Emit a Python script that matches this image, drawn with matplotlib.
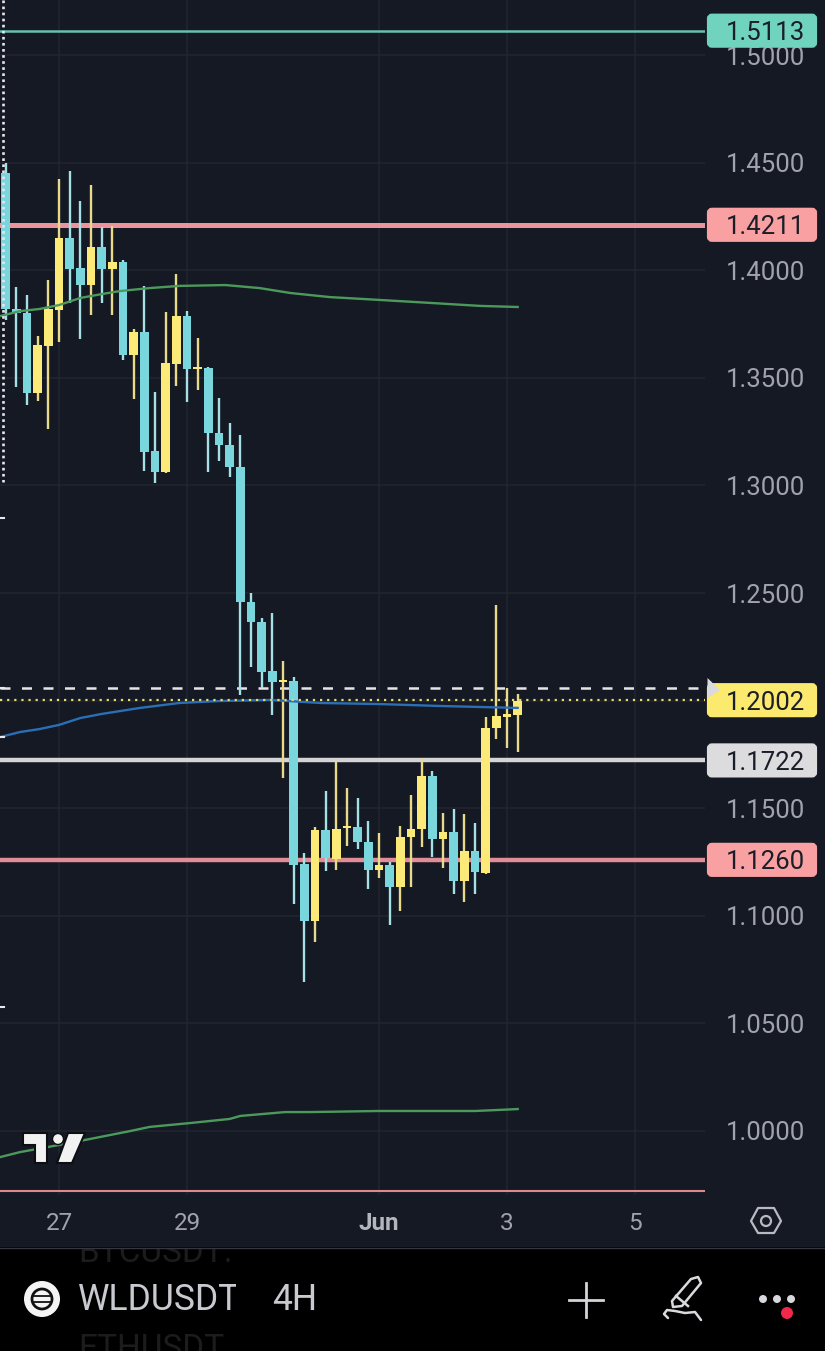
import matplotlib
matplotlib.use("Agg")
import matplotlib.pyplot as plt
from matplotlib.patches import FancyBboxPatch, Rectangle, Circle, Polygon

plt.rcParams['font.family'] = ['Roboto', 'DejaVu Sans']

# 4H candles, index 0 is the first candle of the 27th
candle_idx = list(range(-5, 44))
opens = [1.4452, 1.3820, 1.3801, 1.3429, 1.3648, 1.3815, 1.4150, 1.4010, 1.3931, 1.4108,
         1.4006, 1.4038, 1.3606, 1.3713, 1.3160, 1.3062, 1.3564, 1.3787, 1.3541, 1.3545,
         1.3243, 1.3188, 1.3085, 1.2458, 1.2365, 1.2138, 1.2086, 1.2091, 1.1241, 1.0976,
         1.1399, 1.1264, 1.1408, 1.1413, 1.1343, 1.1213, 1.1236, 1.1134, 1.1366, 1.1403,
         1.1650, 1.1357, 1.1389, 1.1162, 1.1301, 1.1199, 1.1873, 1.1924, 1.1933]
closes = [1.3820, 1.3801, 1.3429, 1.3652, 1.3820, 1.4150, 1.4006, 1.3931, 1.4108, 1.4006,
          1.4038, 1.3606, 1.3713, 1.3155, 1.3062, 1.3569, 1.3787, 1.3541, 1.3550, 1.3243,
          1.3188, 1.3085, 1.2458, 1.2365, 1.2133, 1.2086, 1.2096, 1.1236, 1.0976, 1.1399,
          1.1269, 1.1403, 1.1417, 1.1343, 1.1213, 1.1236, 1.1134, 1.1366, 1.1403, 1.1650,
          1.1357, 1.1389, 1.1162, 1.1301, 1.1204, 1.1873, 1.1928, 1.1938, 1.1998]
highs = [1.4498, 1.3922, 1.3885, 1.3694, 1.3954, 1.4424, 1.4461, 1.4322, 1.4396, 1.4201,
         1.4205, 1.4047, 1.3727, 1.3927, 1.3434, 1.3806, 1.3982, 1.3810, 1.3685, 1.3550,
         1.3406, 1.3290, 1.3234, 1.2500, 1.2384, 1.2407, 1.2184, 1.2110, 1.1292, 1.1413,
         1.1580, 1.1715, 1.1594, 1.1547, 1.1441, 1.1385, 1.1250, 1.1417, 1.1561, 1.1733,
         1.1673, 1.1478, 1.1496, 1.1473, 1.1431, 1.1924, 1.2444, 1.2059, 1.2031]
lows = [1.3769, 1.3457, 1.3374, 1.3392, 1.3262, 1.3666, 1.3848, 1.3680, 1.3792, 1.3848,
        1.3792, 1.3583, 1.3401, 1.3067, 1.3011, 1.3058, 1.3462, 1.3388, 1.3443, 1.3062,
        1.3113, 1.3039, 1.2026, 1.2156, 1.2059, 1.1933, 1.1640, 1.1055, 1.0692, 1.0878,
        1.1208, 1.1213, 1.1324, 1.1310, 1.1125, 1.1176, 1.0957, 1.1022, 1.1134, 1.1320,
        1.1273, 1.1222, 1.1101, 1.1064, 1.1101, 1.1194, 1.1822, 1.1780, 1.1761]

# moving averages, sampled along the line
ma_upper_idx = [-5.5, -3.65, -1.8, 0, 2, 4, 5.7, 8.5, 11.3, 15.6, 18.8, 21.7, 25.4, 30, 34.8, 39.5, 43]
ma_upper = [1.3787, 1.3810, 1.3820, 1.3838, 1.3871, 1.3889, 1.3903, 1.3917, 1.3927, 1.3931,
            1.3917, 1.3894, 1.3875, 1.3862, 1.3848, 1.3834, 1.3829]
ma_lower_idx = [-5.5, -3.65, 0, 2.4, 6.7, 8.5, 12.3, 16, 17, 21.2, 23.5, 30, 39, 41.3, 43]
ma_lower = [0.9879, 0.9902, 0.9935, 0.9958, 1.0000, 1.0019, 1.0037, 1.0056, 1.0070, 1.0088,
            1.0088, 1.0093, 1.0093, 1.0098, 1.0102]
ma_blue_idx = [-5.5, -3.65, -1.8, 0, 2, 4, 7.6, 11.3, 15, 19.8, 24.5, 30, 35.7, 43]
ma_blue = [1.1831, 1.1854, 1.1868, 1.1887, 1.1919, 1.1938, 1.1966, 1.1989, 1.1998, 1.2003,
           1.1989, 1.1984, 1.1975, 1.1966]

# horizontal levels
level_top = 1.5113
level_res = 1.4211
level_last = 1.2002
level_mid = 1.1722
level_sup = 1.1260
level_bottom = 0.9721
level_dash = 1.2059

price_ticks = [1.0, 1.05, 1.10, 1.15, 1.20, 1.25, 1.30, 1.35, 1.40, 1.45, 1.50]
price_labels = ['1.0000', '1.0500', '1.1000', '1.1500', '', '1.2500', '1.3000', '1.3500', '1.4000', '1.4500', '1.5000']
date_ticks = [27, 29, 32, 34, 36]
date_labels = ['27', '29', 'Jun', '3', '5']

BG = '#151924'
BLUE = '#78d6dc'
BLUE_WICK = '#a5e0e6'
YELLOW = '#fbe978'
YELLOW_WICK = '#e9d98a'
TEXT = '#a0a3ab'

W, H = 825, 1351
fig = plt.figure(figsize=(W / 100, H / 100), dpi=100, facecolor=BG)
ax = fig.add_axes([0, 1 - 1195 / H, 705 / W, 1195 / H], facecolor=BG)
ax.set_xlim(26.078, 37.094)
ax.set_ylim(0.97026, 1.52556)

days = [27 + i / 6 for i in candle_idx]
for t, o, h, l, c in zip(days, opens, highs, lows, closes):
    up = c >= o
    ax.vlines(t, l, h, color=YELLOW_WICK if up else BLUE_WICK, lw=1.7, zorder=3)
    ax.bar(t, abs(c - o), bottom=min(o, c), width=0.135, color=YELLOW if up else BLUE, zorder=3.5)

ax.plot([27 + i / 6 for i in ma_upper_idx], ma_upper, color='#4c9a5b', lw=1.7, zorder=4)
ax.plot([27 + i / 6 for i in ma_lower_idx], ma_lower, color='#4c9a5b', lw=1.7, zorder=4)
ax.plot([27 + i / 6 for i in ma_blue_idx], ma_blue, color='#2a6fb5', lw=1.7, zorder=4)

ax.axhline(level_top, color='#68c0ae', lw=1.8, zorder=2)
ax.axhline(level_res, color='#ea959c', lw=3.6, zorder=2)
ax.axhline(level_mid, color='#d4d4d6', lw=3.2, zorder=2)
ax.axhline(level_sup, color='#e08d98', lw=3.2, zorder=2)
ax.axhline(level_bottom, color='#dc8a90', lw=1.5, zorder=2)
ax.axhline(level_dash, color='#e4e4e8', lw=1.8, ls=(0, (4, 4.6)), zorder=2.5)
ax.axhline(level_last, color='#e8d96e', lw=1.6, ls=(0, (1, 2.2)), zorder=4.5)

ax.yaxis.tick_right()
ax.set_yticks(price_ticks)
ax.set_yticklabels(price_labels, fontsize=18.5, color=TEXT)
ax.set_xticks(date_ticks)
ax.set_xticklabels(date_labels, fontsize=17.5, color=TEXT)
ax.get_xticklabels()[2].set_fontweight('bold')
ax.get_xticklabels()[2].set_color('#b4b6bd')
ax.tick_params(axis='y', length=0, pad=15)
ax.tick_params(axis='x', length=0, pad=12)
ax.grid(True, color='#22262f', lw=1.1, zorder=0)
ax.set_axisbelow(True)
for s in ax.spines.values():
    s.set_visible(False)

# overlay in pixel coordinates for the price tags and the app chrome
ov = fig.add_axes([0, 0, 1, 1], facecolor='none', zorder=5)
ov.set_xlim(0, W)
ov.set_ylim(H, 0)
ov.axis('off')


def price_y(p):
    return H - ax.transData.transform((27, p))[1]


def tag(p, color):
    y = price_y(p)
    ov.add_patch(FancyBboxPatch((709, y - 15), 106, 30, boxstyle='round,pad=0,rounding_size=3',
                                mutation_aspect=1, fc=color, ec=color, lw=3))
    ov.text(765.5, y, f'{p:.4f}', ha='center', va='center_baseline', fontsize=18.5, color='#1a1e28')


tag(level_top, '#6fd3bd')
tag(level_res, '#f9a0a2')
tag(level_last, '#fbea6e')
tag(level_mid, '#dcdcde')
tag(level_sup, '#f9a0a2')
ov.add_patch(Polygon([(707.5, 678), (720, 690), (707.5, 698)], fc='#d9d9de', ec='none'))

# crosshair remains on the left edge
ov.plot([2.5, 2.5], [0, 482], color='#e8e8ec', lw=1.9, ls=(0, (1, 1.3)))
for y in [518, 688, 737, 1007]:
    ov.plot([0, 4], [y, y], color='#e8e8ec', lw=1.5)

# TradingView logo
ov.add_patch(Polygon([(23, 1133), (47, 1133), (47, 1163), (35, 1163), (35, 1145), (23, 1145)],
                     fc='#f2f2f2', ec='#0c0e12', lw=1.5, zorder=6))
ov.add_patch(Circle((58, 1139), 5.5, fc='#f2f2f2', ec='#0c0e12', lw=1, zorder=6))
ov.add_patch(Polygon([(68, 1133), (85, 1133), (72, 1163), (57, 1163)], fc='#f2f2f2', ec='#0c0e12', lw=1.5, zorder=6))

# settings hexagon
ov.add_patch(Polygon([(751, 1221), (758, 1208), (774, 1208), (781, 1221), (774, 1233), (758, 1233)],
                     fc='none', ec='#b8bac0', lw=1.6, joinstyle='round'))
ov.add_patch(Circle((766, 1221), 5, fc='none', ec='#b8bac0', lw=1.6))

# bottom bar
ov.add_patch(Rectangle((0, 1247), W, 104, fc='black', ec='none', zorder=0.5))
ghost = ov.text(78, 1253, 'BTCUSDT.', fontsize=24, color='#1c1c1d', ha='left', va='center', zorder=1)
ghost.set_clip_path(Rectangle((0, 1248), W, 60, transform=ov.transData))
ghost.set_clip_on(True)
ov.plot([0, W], [1247.5, 1247.5], color='#34373f', lw=1, zorder=2)
ov.text(78, 1349, 'ETHUSDT', fontsize=24, color='#1c1c1d', ha='left', va='center', zorder=1)

ov.add_patch(Circle((42, 1299), 18, fc='#f4f4f4', ec='none', zorder=3))
ov.add_patch(Circle((42, 1299), 10, fc='none', ec='#111111', lw=2, zorder=4))
ov.plot([34, 50], [1296, 1296], color='#111111', lw=1.3, zorder=4)
ov.plot([34, 50], [1302, 1302], color='#111111', lw=1.3, zorder=4)

sym = ov.text(78, 1300, 'WLDUSDT', fontsize=25.6, color='#c8cad0', ha='left', va='center', zorder=3)
sym.set_clip_path(Rectangle((70, 1270), 166, 60, transform=ov.transData))
sym.set_clip_on(True)
ov.text(272, 1300, '4H', fontsize=25.6, color='#c8cad0', ha='left', va='center', zorder=3)

ov.plot([569, 603], [1300, 1300], color='#d2d4d8', lw=2, zorder=3)
ov.plot([586, 586], [1283, 1317], color='#d2d4d8', lw=2, zorder=3)

# pencil
ov.add_patch(Polygon([(673, 1307), (672, 1301), (691, 1279), (698, 1277), (701, 1283), (682, 1306)],
                     fc='none', ec='#d8dade', lw=1.8, joinstyle='round', zorder=3))
ov.plot([676, 688], [1296, 1306], color='#d8dade', lw=1.8, zorder=3)
ov.plot([668, 664, 667, 675, 685, 695, 701], [1318, 1314, 1310, 1311, 1313, 1312, 1320],
        color='#d8dade', lw=1.8, solid_capstyle='round', zorder=3)

for x in [763, 777, 791]:
    ov.add_patch(Circle((x, 1299), 4, fc='#d8d8dc', ec='none', zorder=3))
ov.add_patch(Circle((787, 1313), 6, fc='#f0284a', ec='none', zorder=4))

fig.savefig('out.png', dpi=100, facecolor=BG)
